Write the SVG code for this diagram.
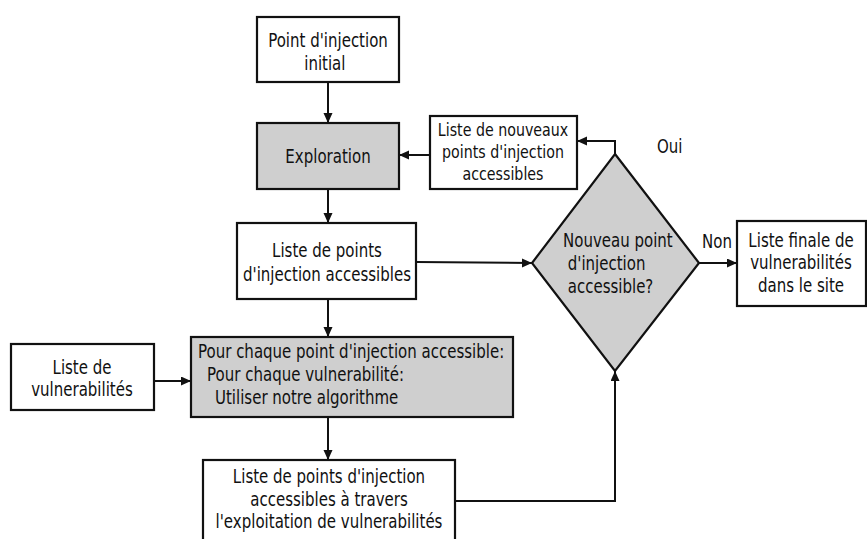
<svg xmlns="http://www.w3.org/2000/svg" width="867" height="539" viewBox="0 0 867 539">
  <style>
    .box { fill: #ffffff; stroke: #111111; stroke-width: 2.2; }
    .proc { fill: #cfcfcf; stroke: #111111; stroke-width: 2.2; }
    .edge { fill: none; stroke: #111111; stroke-width: 2; }
    .lbl { font-family: "DejaVu Sans", "Liberation Sans", sans-serif; font-size: 19px; fill: #111111; }
    .sm { font-size: 18px; }
    .mid { text-anchor: middle; }
  </style>
  <defs>
    <marker id="arrow" markerUnits="userSpaceOnUse" markerWidth="12" markerHeight="10" refX="10" refY="4.5" orient="auto">
      <path d="M0,0 L10,4.5 L0,9 z" fill="#111111"/>
    </marker>
  </defs>
  <rect width="867" height="539" fill="#ffffff"/>

  <!-- connectors -->
  <g id="connectors">
    <line class="edge" x1="328" y1="82" x2="328" y2="123" marker-end="url(#arrow)"/>
    <line class="edge" x1="328" y1="189" x2="328" y2="223" marker-end="url(#arrow)"/>
    <line class="edge" x1="328" y1="299" x2="328" y2="337" marker-end="url(#arrow)"/>
    <line class="edge" x1="328" y1="417" x2="328" y2="460" marker-end="url(#arrow)"/>
    <line class="edge" x1="154" y1="381" x2="191" y2="381" marker-end="url(#arrow)"/>
    <line class="edge" x1="430" y1="155" x2="399" y2="155" marker-end="url(#arrow)"/>
    <polyline class="edge" points="615,154 615,141 577,141" marker-end="url(#arrow)"/>
    <line class="edge" x1="416" y1="262" x2="532" y2="263" marker-end="url(#arrow)"/>
    <line class="edge" x1="699" y1="263" x2="737" y2="263" marker-end="url(#arrow)"/>
    <polyline class="edge" points="455,501 615,501 615,371" marker-end="url(#arrow)"/>
    <text class="lbl" transform="translate(657,153) scale(0.79,1)">Oui</text>
    <text class="lbl" transform="translate(702,248) scale(0.79,1)">Non</text>
  </g>

  <g id="initial">
    <rect class="box" x="257" y="17" width="142" height="65"/>
    <text class="lbl mid" transform="translate(328,47) scale(0.79,1)"><tspan x="0">Point d'injection</tspan><tspan x="-4" dy="23">initial</tspan></text>
  </g>

  <g id="exploration">
    <rect class="proc" x="257" y="123" width="142" height="66"/>
    <text class="lbl mid" transform="translate(328,163) scale(0.79,1)">Exploration</text>
  </g>

  <g id="nouveaux">
    <rect class="box" x="430" y="116" width="147" height="73"/>
    <text class="lbl sm mid" transform="translate(503,136) scale(0.79,1)"><tspan x="0">Liste de nouveaux</tspan><tspan x="0" dy="22">points d'injection</tspan><tspan x="0" dy="22">accessibles</tspan></text>
  </g>

  <g id="accessibles">
    <rect class="box" x="237" y="223" width="179" height="76"/>
    <text class="lbl mid" transform="translate(327,257) scale(0.79,1)"><tspan x="0">Liste de points</tspan><tspan x="0" dy="24">d'injection accessibles</tspan></text>
  </g>

  <g id="decision">
    <polygon class="proc" points="615,154 699,263 615,371 532,263"/>
    <text class="lbl" transform="translate(563,247) scale(0.79,1)"><tspan x="0">Nouveau point</tspan><tspan x="6" dy="23">d'injection</tspan><tspan x="6" dy="23">accessible?</tspan></text>
  </g>

  <g id="finale">
    <rect class="box" x="737" y="221" width="129" height="85"/>
    <text class="lbl mid" transform="translate(801,247) scale(0.79,1)"><tspan x="0">Liste finale de</tspan><tspan x="0" dy="22.5">vulnerabilités</tspan><tspan x="0" dy="22.5">dans le site</tspan></text>
  </g>

  <g id="vulnerabilites">
    <rect class="box" x="11" y="344" width="143" height="66"/>
    <text class="lbl mid" transform="translate(82,374) scale(0.79,1)"><tspan x="0">Liste de</tspan><tspan x="0" dy="22">vulnerabilités</tspan></text>
  </g>

  <g id="boucle">
    <rect class="proc" x="191" y="337" width="322" height="80"/>
    <text class="lbl" transform="translate(198,358) scale(0.79,1)"><tspan x="0">Pour chaque point d'injection accessible:</tspan><tspan x="11.5" dy="23.5">Pour chaque vulnerabilité:</tspan><tspan x="21.5" dy="23">Utiliser notre algorithme</tspan></text>
  </g>

  <g id="exploitation">
    <rect class="box" x="203" y="460" width="252" height="90"/>
    <text class="lbl mid" transform="translate(329,483) scale(0.79,1)"><tspan x="0">Liste de points d'injection</tspan><tspan x="0" dy="23.5">accessibles à travers</tspan><tspan x="0" dy="22">l'exploitation de vulnerabilités</tspan></text>
  </g>
</svg>
